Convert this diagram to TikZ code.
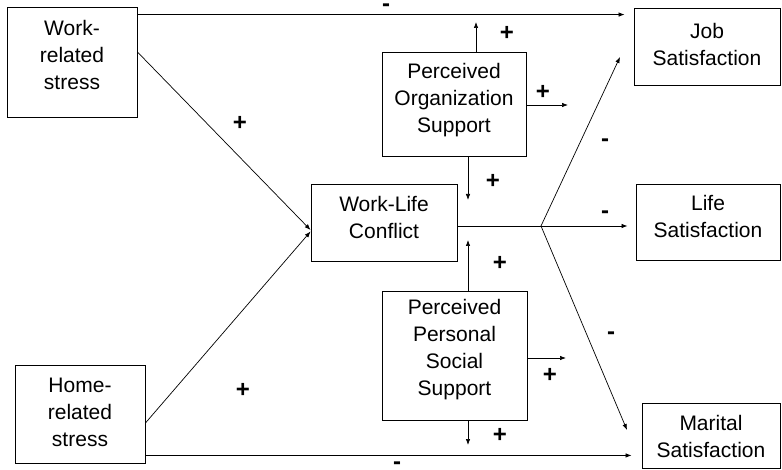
\documentclass[tikz,border=0pt]{standalone}
\usepackage{fontspec}
\setmainfont{Liberation Sans}
\usetikzlibrary{calc,arrows.meta}
\begin{document}
\begin{tikzpicture}[x=1pt,y=-1pt,
 box/.style={draw,line width=0.9pt,inner sep=0pt},
 txt/.style={inner sep=0pt,align=center,font=\fontsize{21}{27}\selectfont},
 conn/.style={line width=0.7pt,-{Latex[length=6pt,width=4.5pt]}},
 plus/.style={inner sep=0pt,font=\fontsize{24}{24}\selectfont\bfseries},
 minus/.style={inner sep=0pt,anchor=base,font=\fontsize{24}{24}\selectfont\bfseries}]
\useasboundingbox (0,0) rectangle (782,470);
% boxes
\node[box,minimum width=130pt,minimum height=110pt] (work) at (72,62) {};
\node[box,minimum width=130pt,minimum height=98pt] (home) at (80,414) {};
\node[box,minimum width=146pt,minimum height=77pt] (wlc) at (384,222.5) {};
\node[box,minimum width=144pt,minimum height=104pt] (pos) at (454,104) {};
\node[box,minimum width=145pt,minimum height=129pt] (ppss) at (454.5,355.5) {};
\node[box,minimum width=146pt,minimum height=77pt] (job) at (707,46.5) {};
\node[box,minimum width=144pt,minimum height=76pt] (life) at (708,222) {};
\node[box,minimum width=138pt,minimum height=65pt] (marital) at (711,435.5) {};
% box texts
\node[txt] (workt) at (72,54.5) {Work-\\related\\stress};
\node[txt] (homet) at (80,412) {Home-\\related\\stress};
\node[txt] (wlct) at (384,217) {Work-Life\\Conflict};
\node[txt] (post) at (454,100) {Perceived\\Organization\\Support};
\node[txt] (ppsst) at (454.5,350) {Perceived\\Personal\\Social\\Support};
\node[txt] (jobt) at (707,44) {Job\\Satisfaction};
\node[txt] (lifet) at (708,216.5) {Life\\Satisfaction};
\node[txt] (maritalt) at (711,436) {Marital\\Satisfaction};
% coordinates
\coordinate (wtop) at ([yshift=-8pt]work.north east);
\coordinate (hbot) at ([yshift=8pt]home.south east);
\coordinate (wlcout) at ([yshift=-3.5pt]wlc.east);
\coordinate (fork) at (541,226);
\coordinate (jobin) at (620,57);
\coordinate (marin) at (627,430);
\coordinate (posup) at (476,22);
\coordinate (posright) at (568,105);
\coordinate (posdown) at (468,200);
\coordinate (ppup) at (468,240);
\coordinate (ppright) at (566,358);
\coordinate (ppdown) at (468,445);
% connectors
\draw[conn,shorten >=9pt] (wtop) -- (wtop -| job.west);
\draw[conn,shorten >=10pt] (hbot) -- (hbot -| marital.west);
\draw[conn] ([yshift=10pt]work.east) -- ([yshift=-7.5pt]wlc.west);
\draw[conn] ([yshift=-9pt]home.east) -- ([yshift=-9pt]wlc.west);
\draw[conn,shorten >=8pt] (wlcout) -- (wlcout -| life.west);
\draw[conn] (fork) -- (jobin);
\draw[conn] (fork) -- (marin);
\draw[conn] ([xshift=22pt]pos.north) -- (posup);
\draw[conn] ([yshift=-1pt]pos.east) -- (posright);
\draw[conn] ([xshift=14pt]pos.south) -- (posdown);
\draw[conn] ([xshift=13.5pt]ppss.north) -- (ppup);
\draw[conn] ([yshift=-2.5pt]ppss.east) -- (ppright);
\draw[conn] ([xshift=13.5pt]ppss.south) -- (ppdown);
% labels
\node[plus] (l1) at (240,123) {+};
\node[plus] (l2) at (243,390) {+};
\node[plus] (l3) at (507,33) {+};
\node[plus] (l4) at (543,92) {+};
\node[plus] (l5) at (493,181) {+};
\node[plus] (l6) at (500,263) {+};
\node[plus] (l7) at (550,375) {+};
\node[plus] (l8) at (500,435) {+};
\node[minus] (m1) at (386,11.7) {-};
\node[minus] (m2) at (397,469.5) {-};
\node[minus] (m3) at (605,146.7) {-};
\node[minus] (m4) at (605,218.7) {-};
\node[minus] (m5) at (611,339.7) {-};
\end{tikzpicture}
\end{document}
